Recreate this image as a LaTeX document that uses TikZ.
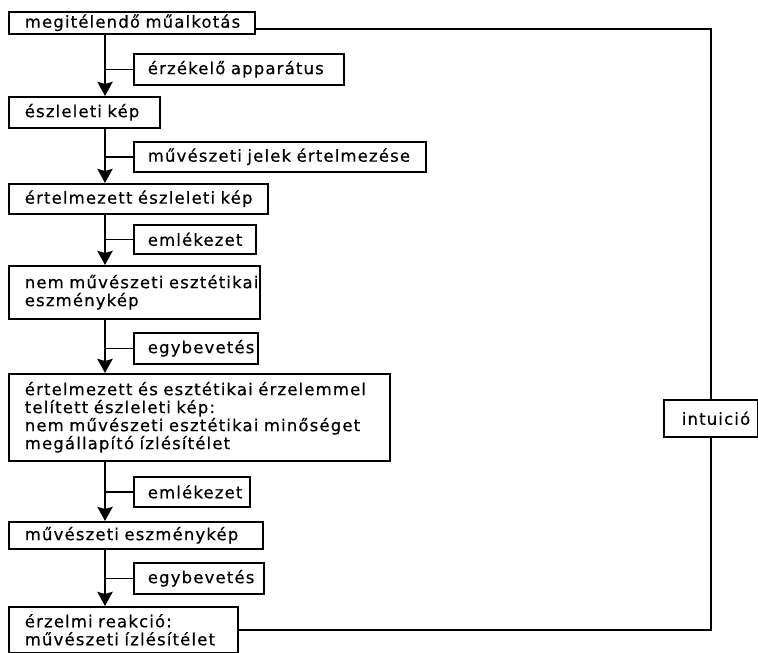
\documentclass[tikz,border=0pt]{standalone}
\usepackage{fontspec}
\setmainfont[LetterSpace=7,FakeBold=0.5]{DejaVu Sans}
\usetikzlibrary{arrows.meta}
\hyphenpenalty=10000

\tikzset{
  box/.style={draw, line width=1.6pt, anchor=north west, align=left,
    inner xsep=16pt, inner ysep=0pt, font=\fontsize{16.5pt}{18pt}\selectfont},
  side/.style={box, inner xsep=14pt},
  spine/.style={line width=2.8pt, -{Stealth[length=14pt,width=15pt,inset=2pt]}},
  tap/.style={line width=1.6pt},
  loop/.style={line width=1.8pt}
}

\begin{document}
\begin{tikzpicture}[x=1pt, y=-1pt]
        \useasboundingbox (0,0) rectangle (758,653);
        \coordinate (sp) at (105,0);

        % Main chain (left)
        \node[box, text width=214pt, minimum height=22pt] (b1) at (8,11) {megitélendő~műalkotás};
        \node[box, text width=119pt, minimum height=31pt] (b2) at (8,96) {észleleti~kép};
        \node[box, text width=227pt, minimum height=30pt] (b3) at (8,183) {értelmezett~észleleti~kép};
        \node[box, text width=219pt, minimum height=53pt] (b4) at (8,265) {nem~művészeti~esztétikai\\eszménykép};
        \node[box, text width=349pt, minimum height=87pt] (b5) at (8,373) {értelmezett~és~esztétikai~érzelemmel\\telített~észleleti~kép:\\nem~művészeti~esztétikai~minőséget\\megállapító~ízlésítélet};
        \node[box, text width=222pt, minimum height=27pt] (b6) at (8,521) {művészeti~eszménykép};
        \node[box, text width=197pt, minimum height=46pt] (b7) at (8,606) {érzelmi~reakció:\\művészeti~ízlésítélet};

        % Side boxes
        \node[side, text width=182pt, minimum height=31pt] (s1) at (133,53) {érzékelő~apparátus};
        \node[side, text width=264pt, minimum height=30pt] (s2) at (133,141) {művészeti~jelek~értelmezése};
        \node[side, text width=94pt, minimum height=29pt] (s3) at (133,224) {emlékezet};
        \node[side, text width=96pt, minimum height=31pt] (s4) at (133,332) {egybevetés};
        \node[side, text width=88pt, minimum height=30pt] (s5) at (133,476) {emlékezet};
        \node[side, text width=102pt, minimum height=31pt] (s6) at (133,562) {egybevetés};

        % Intuition box (right)
        \node[side, inner xsep=18pt, text width=58pt, minimum height=37pt] (iv) at (663,399) {intuició};

        % Spine with arrows
        \draw[spine] (b1.south -| sp) -- (b2.north -| sp);
        \draw[spine] (b2.south -| sp) -- (b3.north -| sp);
        \draw[spine] (b3.south -| sp) -- (b4.north -| sp);
        \draw[spine] (b4.south -| sp) -- (b5.north -| sp);
        \draw[spine] (b5.south -| sp) -- (b6.north -| sp);
        \draw[spine] (b6.south -| sp) -- (b7.north -| sp);

        % Taps into the spine
        \foreach \s in {s1,s2,s3,s4,s5,s6}
          \draw[tap] (\s.west) -- (\s.west -| sp);

        % Feedback loop
        \draw[loop] ([yshift=-6pt]b1.east) -| (iv.north);
        \draw[loop] (iv.south) |- (b7.east);
\end{tikzpicture}
\end{document}
